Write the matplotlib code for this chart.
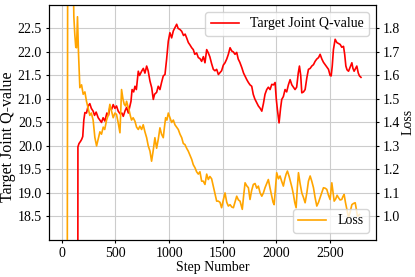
import matplotlib
matplotlib.use("Agg")
import matplotlib.pyplot as plt

plt.rcParams['font.family'] = ['Liberation Serif', 'DejaVu Serif']
plt.rcParams['font.size'] = 10

# Target Joint Q-value (left axis)
q_steps = [145, 150, 160, 175, 185, 195, 205, 215, 230, 245, 261, 275, 292, 305, 320, 339, 355, 370,
           385, 401, 420, 435, 448, 465, 479, 495, 510, 526, 545, 560, 573, 590, 604, 620, 635, 645,
           655, 670, 682, 695, 713, 725, 744, 760, 775, 791, 805, 822, 838, 853, 865, 884, 899, 915,
           930, 946, 962, 977, 993, 1008, 1024, 1040, 1055, 1071, 1085, 1101, 1118, 1135, 1150, 1164,
           1180, 1195, 1211, 1226, 1240, 1257, 1273, 1288, 1304, 1320, 1335, 1351, 1366, 1380, 1397,
           1413, 1428, 1444, 1460, 1475, 1490, 1506, 1522, 1538, 1553, 1569, 1585, 1600, 1615, 1631,
           1645, 1660, 1678, 1695, 1710, 1725, 1740, 1755, 1771, 1785, 1800, 1818, 1833, 1850, 1865,
           1880, 1895, 1911, 1926, 1942, 1958, 1975, 1989, 2000, 2010, 2026, 2040, 2051, 2066, 2082,
           2097, 2113, 2129, 2145, 2160, 2175, 2190, 2205, 2216, 2228, 2238, 2254, 2269, 2285, 2300,
           2316, 2331, 2347, 2362, 2378, 2394, 2409, 2425, 2440, 2456, 2471, 2487, 2502, 2512, 2522,
           2533, 2549, 2565, 2580, 2596, 2611, 2627, 2638, 2649, 2660, 2674, 2690, 2705, 2715, 2726,
           2740, 2751, 2765, 2776, 2790]
q_values = [0.0, 19.98, 20.05, 20.1, 20.14, 20.2, 20.55, 20.71, 20.7, 20.85, 20.9, 20.8, 20.74, 20.65,
            20.72, 20.6, 20.55, 20.5, 20.6, 20.53, 20.7, 20.65, 20.82, 20.78, 20.88, 20.8, 20.85, 20.74,
            20.68, 20.7, 20.63, 20.75, 20.82, 20.7, 20.85, 20.95, 21.2, 21.15, 21.27, 21.2, 21.59, 21.5,
            21.59, 21.65, 21.55, 21.7, 21.6, 21.38, 21.24, 20.99, 21.1, 21.14, 21.27, 21.2, 21.35, 21.49,
            21.52, 21.84, 22.23, 22.41, 22.3, 22.45, 22.52, 22.59, 22.5, 22.48, 22.44, 22.35, 22.38, 22.3,
            22.2, 22.15, 22.09, 22.05, 21.95, 21.98, 21.88, 21.86, 21.8, 21.9, 21.77, 22.05, 21.98, 21.9,
            21.75, 21.63, 21.6, 21.63, 21.52, 21.56, 21.6, 21.72, 21.77, 21.85, 21.95, 22.09, 22.02, 22.0,
            21.95, 21.99, 21.85, 21.78, 21.67, 21.55, 21.48, 21.41, 21.35, 21.3, 21.27, 21.1, 21.0, 20.92,
            20.85, 20.8, 20.74, 20.9, 21.1, 21.2, 21.25, 21.2, 21.31, 21.3, 21.35, 21.0, 20.78, 20.49,
            20.8, 20.99, 21.05, 21.2, 21.15, 21.3, 21.41, 21.3, 21.25, 21.2, 21.25, 21.55, 21.7, 21.5,
            21.13, 21.15, 21.2, 21.45, 21.63, 21.65, 21.7, 21.73, 21.8, 21.85, 21.88, 21.95, 21.85, 21.78,
            21.73, 21.68, 21.63, 21.5, 21.49, 21.7, 22.05, 22.27, 22.2, 22.18, 22.16, 22.1, 22.12, 21.95,
            21.7, 21.62, 21.59, 21.68, 21.77, 21.65, 21.59, 21.65, 21.7, 21.55, 21.49, 21.46]

# Loss (right axis)
loss_steps = [50, 60, 80, 100, 112, 121, 130, 137, 146, 155, 168, 184, 199, 215, 230, 245, 261, 275,
              292, 308, 324, 340, 355, 370, 386, 400, 417, 432, 448, 463, 479, 495, 510, 525, 542, 550,
              557, 570, 582, 594, 604, 615, 626, 638, 650, 665, 682, 697, 713, 728, 744, 759, 775, 791,
              806, 822, 837, 852, 868, 884, 900, 915, 930, 946, 957, 968, 980, 993, 1008, 1024, 1040,
              1055, 1070, 1086, 1102, 1118, 1133, 1148, 1164, 1179, 1195, 1211, 1226, 1242, 1257, 1273,
              1288, 1304, 1319, 1335, 1351, 1366, 1381, 1397, 1412, 1428, 1444, 1459, 1475, 1490, 1506,
              1522, 1538, 1553, 1569, 1585, 1600, 1615, 1631, 1647, 1662, 1683, 1696, 1709, 1725, 1740,
              1755, 1770, 1786, 1802, 1818, 1833, 1849, 1865, 1880, 1895, 1911, 1926, 1942, 1958, 1970,
              1980, 1992, 2004, 2020, 2035, 2050, 2066, 2080, 2092, 2104, 2120, 2135, 2148, 2160, 2172,
              2185, 2196, 2207, 2222, 2238, 2254, 2269, 2285, 2300, 2316, 2331, 2347, 2362, 2378, 2394,
              2409, 2425, 2440, 2456, 2471, 2487, 2502, 2518, 2530, 2540, 2555, 2567, 2580, 2595, 2611,
              2622, 2633, 2645, 2658, 2674, 2690, 2705, 2720, 2736, 2747, 2757, 2776]
loss_values = [0.5, 4.0, 3.0, 2.2, 1.85, 1.774, 1.72, 1.718, 1.85, 1.70, 1.548, 1.56, 1.52, 1.53, 1.49,
               1.46, 1.43, 1.44, 1.41, 1.336, 1.30, 1.33, 1.36, 1.35, 1.38, 1.37, 1.41, 1.43, 1.477, 1.45,
               1.42, 1.44, 1.434, 1.40, 1.356, 1.45, 1.54, 1.50, 1.477, 1.47, 1.49, 1.47, 1.455, 1.43, 1.41,
               1.42, 1.405, 1.38, 1.37, 1.384, 1.37, 1.39, 1.36, 1.335, 1.30, 1.278, 1.235, 1.28, 1.335,
               1.29, 1.33, 1.377, 1.35, 1.335, 1.38, 1.42, 1.41, 1.44, 1.42, 1.40, 1.41, 1.39, 1.38, 1.37,
               1.35, 1.335, 1.31, 1.306, 1.29, 1.278, 1.26, 1.243, 1.22, 1.207, 1.19, 1.18, 1.19, 1.15,
               1.15, 1.136, 1.18, 1.157, 1.17, 1.16, 1.13, 1.10, 1.065, 1.065, 1.06, 1.037, 1.07, 1.10,
               1.06, 1.044, 1.05, 1.04, 1.037, 1.06, 1.086, 1.07, 1.065, 1.03, 1.09, 1.143, 1.13, 1.122,
               1.072, 1.11, 1.136, 1.14, 1.12, 1.129, 1.10, 1.086, 1.10, 1.122, 1.14, 1.157, 1.12, 1.086,
               1.06, 1.05, 1.12, 1.186, 1.16, 1.172, 1.15, 1.129, 1.16, 1.18, 1.193, 1.17, 1.143, 1.12,
               1.093, 1.06, 1.037, 1.12, 1.186, 1.14, 1.10, 1.08, 1.058, 1.10, 1.15, 1.172, 1.15, 1.122,
               1.08, 1.044, 1.06, 1.08, 1.10, 1.122, 1.12, 1.115, 1.09, 1.072, 1.143, 1.10, 1.065, 1.075,
               1.09, 1.08, 1.07, 1.072, 1.085, 1.093, 1.06, 1.03, 0.995, 1.02, 1.05, 1.055, 1.058, 1.03,
               1.0, 1.008]

fig = plt.figure(figsize=(4.15, 2.77), dpi=100)
ax1 = fig.add_axes([0.118, 0.134, 0.788, 0.848])
ax2 = ax1.twinx()

ax1.plot(q_steps, q_values, color='red', lw=1.2, label='Target Joint Q-value')
ax2.plot(loss_steps, loss_values, color='orange', lw=1.2, label='Loss')

ax1.set_xlim(-120, 2930)
ax1.set_ylim(18.0, 23.0)
ax2.set_ylim(0.9, 1.9)
ax1.set_yticks([18.5, 19.0, 19.5, 20.0, 20.5, 21.0, 21.5, 22.0, 22.5])
ax2.set_yticks([1.0, 1.1, 1.2, 1.3, 1.4, 1.5, 1.6, 1.7, 1.8])
ax1.set_xticks([0, 500, 1000, 1500, 2000, 2500])
ax1.tick_params(length=2.5, pad=2.5)
ax2.tick_params(length=2.5, pad=2.5)

ax1.grid(True, color='#cccccc', lw=0.8)
ax1.set_xlabel('Step Number', labelpad=1)
ax1.set_ylabel('Target Joint Q-value', fontsize=11.5)
ax1.yaxis.set_label_coords(-0.1, 0.44)
ax2.set_ylabel('Loss', labelpad=1)

ax1.legend(loc='upper right')
ax2.legend(loc='lower right')

fig.savefig('out.png', dpi=100)
